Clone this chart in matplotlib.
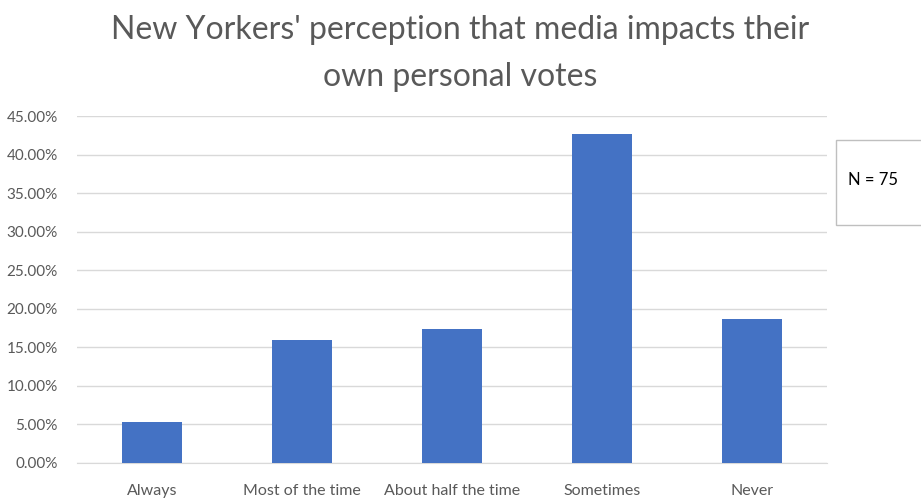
import matplotlib.pyplot as plt
from matplotlib.patches import Rectangle
from matplotlib.ticker import FuncFormatter

# survey responses, share of respondents (N = 75)
answers = ["Always", "Most of the time", "About half the time", "Sometimes", "Never"]
shares = [4 / 75, 12 / 75, 13 / 75, 32 / 75, 14 / 75]

plt.rcParams['font.family'] = ['Lato', 'DejaVu Sans']
grey = "#595959"

fig = plt.figure(figsize=(9.21, 4.98), dpi=100)
ax = fig.add_axes([0.0836, 0.0703, 0.8144, 0.6967])

ax.bar(range(len(answers)), shares, width=0.4, color="#4472C4", zorder=3)
ax.set_xlim(-0.5, len(answers) - 0.5)
ax.set_ylim(0, 0.45)
ax.set_yticks([i * 0.05 for i in range(10)])
ax.yaxis.set_major_formatter(FuncFormatter(lambda v, p: f"{v * 100:.2f}%"))
ax.set_xticks(range(len(answers)))
ax.set_xticklabels(answers)

ax.grid(axis="y", color="#d9d9d9", linewidth=1, zorder=0)
for s in ["top", "right", "left"]:
    ax.spines[s].set_visible(False)
ax.spines["bottom"].set_color("#d9d9d9")
ax.tick_params(length=0, colors=grey, labelsize=11)
ax.tick_params(axis="y", pad=14)
ax.tick_params(axis="x", pad=15, labelsize=11.5)

fig.text(0.5, 1 - 30 / 498, "New Yorkers' perception that media impacts their",
         ha="center", va="center", fontsize=23, color=grey)
fig.text(0.5, 1 - 77 / 498, "own personal votes",
         ha="center", va="center", fontsize=23, color=grey)

# N label box on the right
fig.patches.append(Rectangle((836 / 921, 1 - 225 / 498), 0.2, 85 / 498,
                             transform=fig.transFigure, facecolor="white",
                             edgecolor="#bfbfbf", linewidth=1))
fig.text(848 / 921, 1 - 180 / 498, "N = 75", ha="left", va="center",
         fontsize=12, color="black")

fig.savefig("out.png", dpi=100)
